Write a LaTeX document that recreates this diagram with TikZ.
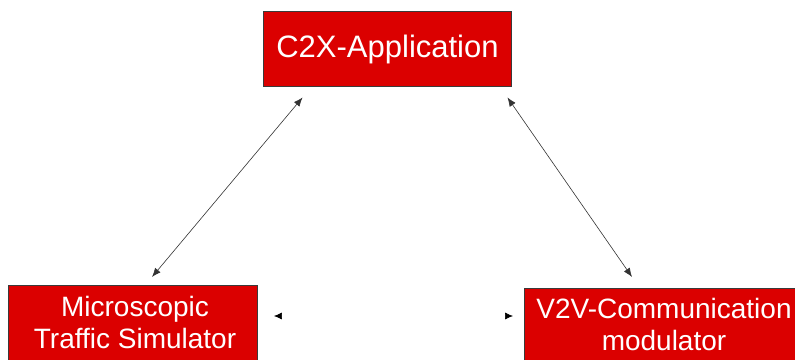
\documentclass[tikz,border=0pt]{standalone}
\usepackage{fontspec}
\setmainfont{Liberation Sans}
\usetikzlibrary{arrows.meta,calc}
\definecolor{boxred}{HTML}{DB0000}
\definecolor{edgegray}{HTML}{3A3A3A}
\tikzset{
  redbox/.style={rectangle, fill=boxred, draw=edgegray, line width=0.9pt, inner sep=0pt},
  lbl/.style={text=white, align=center, inner sep=0pt, font=\fontsize{28}{32}\selectfont},
  conn/.style={draw=black!80, line width=0.6pt, {Latex[length=9pt,width=7pt]}-{Latex[length=9pt,width=7pt]}},
  hidconn/.style={draw=white, line width=0.6pt, {Latex[length=8pt,width=7pt,black]}-{Latex[length=8pt,width=7pt,black]}}
}
\begin{document}
\begin{tikzpicture}[x=1pt,y=-1pt]
\useasboundingbox (0,0) rectangle (795,359);
\clip (0,0) rectangle (795,359);
\fill[white] (0,0) rectangle (795,359);
% boxes
\node[redbox, minimum width=248pt, minimum height=75pt] (app) at (387,48.5) {};
\node[redbox, minimum width=249pt, minimum height=100pt, anchor=north west] (sim) at (8,285) {};
\node[redbox, minimum width=280pt, minimum height=100pt, anchor=north west] (v2v) at (524,288) {};
% labels
\node[lbl, font=\fontsize{31}{36}\selectfont, anchor=base] (appt) at (387.5,57) {C2X-Application};
\node[lbl, anchor=base] (simt) at (135,348) {Microscopic\\Traffic Simulator};
\node[lbl, anchor=base] (v2vt) at (664,350) {V2V-Communication\\modulator};
% connectors
\draw[conn] ($(app.south west)+(40,11)$) -- ($(sim.north west)+(144,-8)$);
\draw[conn] ($(app.south east)+(-4,11)$) -- ($(v2v.north west)+(108,-11)$);
\draw[hidconn] ($(sim.north east)+(16,31)$) -- ($(v2v.north west)+(-11,28)$);
\end{tikzpicture}
\end{document}
